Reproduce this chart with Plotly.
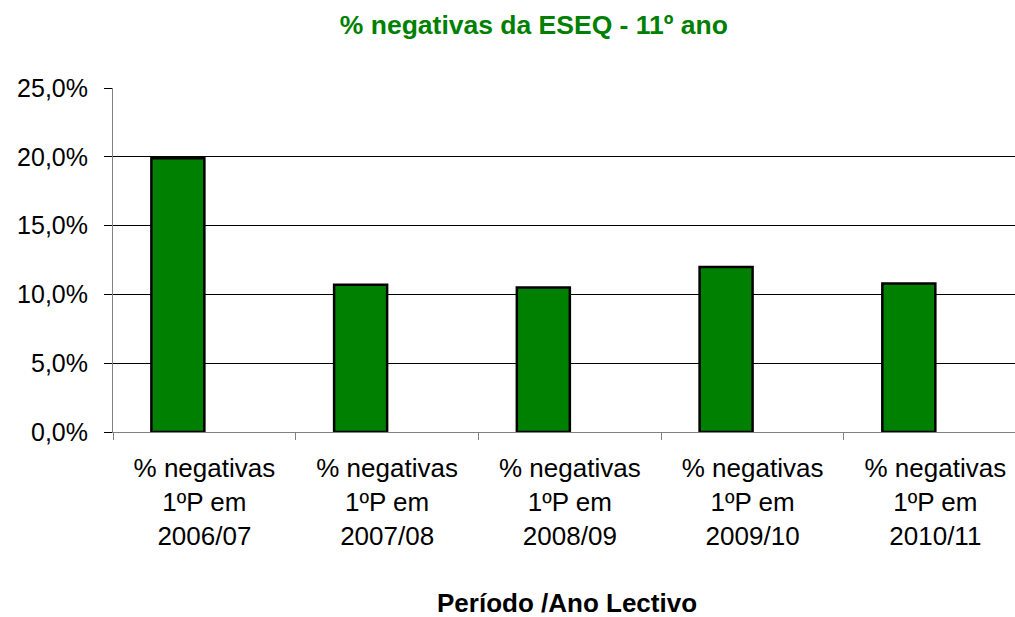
import plotly.graph_objects as go

# categorias e valores (% negativas, 11º ano)
categorias = [
    "% negativas<br>1ºP em<br>2006/07",
    "% negativas<br>1ºP em<br>2007/08",
    "% negativas<br>1ºP em<br>2008/09",
    "% negativas<br>1ºP em<br>2009/10",
    "% negativas<br>1ºP em<br>2010/11",
]
percentagens = [0.199, 0.107, 0.105, 0.120, 0.108]
y_ticks = [0, 0.05, 0.10, 0.15, 0.20, 0.25]

FONT = "Arial, Liberation Sans, sans-serif"

fig = go.Figure()
fig.add_trace(go.Bar(
    x=categorias,
    y=percentagens,
    width=0.29,
    offset=-0.29,
    marker=dict(color="#008000", line=dict(color="#000000", width=2.5)),
))

fig.update_layout(
    width=1015, height=617,
    margin=dict(l=113, r=0, t=88, b=185),
    paper_bgcolor="white", plot_bgcolor="white",
    separators=",.",
    showlegend=False,
    font=dict(family=FONT, size=25, color="black"),
    title=dict(
        text="<b>% negativas da ESEQ - 11º ano</b>",
        x=0.526, xanchor="center", y=0.960, yanchor="middle",
        font=dict(family=FONT, size=26.5, color="#008000"),
    ),
    xaxis=dict(
        type="category",
        range=[-0.5, 4.436],
        automargin=False,
        showline=True, linecolor="#808080", linewidth=1,
        ticks="outside", tickson="boundaries", ticklen=7, tickcolor="#808080",
        showgrid=False,
        ticklabelstandoff=13,
        tickfont=dict(family=FONT, size=26),
    ),
    yaxis=dict(
        range=[0, 0.25],
        automargin=False,
        tickvals=y_ticks,
        tickformat=".1%",
        showline=True, linecolor="#808080", linewidth=1,
        ticks="outside", ticklen=8, tickcolor="#000000",
        showgrid=True, gridcolor="#000000", gridwidth=1,
        zeroline=False,
        ticklabelstandoff=11,
    ),
)

fig.add_annotation(
    text="<b>Período /Ano Lectivo</b>",
    xref="paper", yref="paper", x=0.503, y=-0.497,
    xanchor="center", yanchor="middle", showarrow=False,
    font=dict(family=FONT, size=26, color="black"),
)

# sem a margem por defeito do <body> e sem modebar
fig.write_html("out.html", config={"displayModeBar": False},
               post_script="document.body.style.margin='0';")
